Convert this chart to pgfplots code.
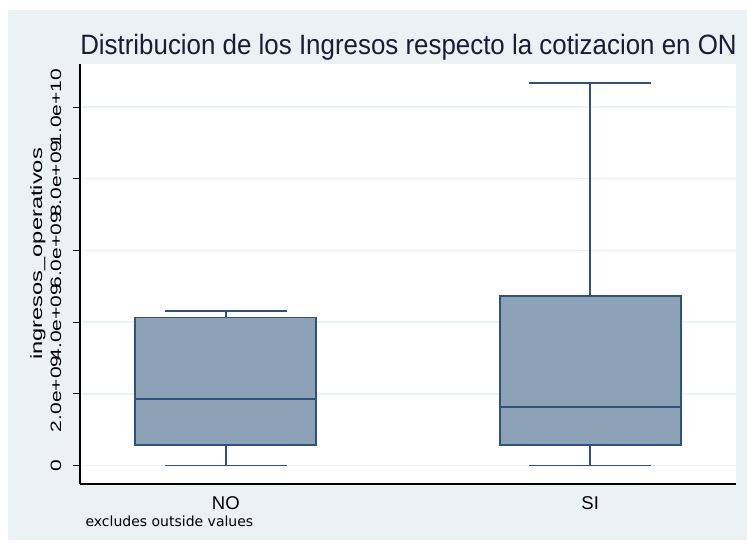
\documentclass[border=0pt]{standalone}
\usepackage{fontspec}
\setmainfont{Liberation Sans}
\newfontfamily\titlefont[FakeStretch=0.925]{Liberation Sans}
\newfontfamily\rotfont[FakeStretch=1.4]{Liberation Sans}
\newfontfamily\ylabfont[FakeStretch=1.45]{Liberation Sans}
\newfontfamily\notefont{DejaVu Sans}
\usepackage{pgfplots}
\usepgfplotslibrary{statistics}
\pgfplotsset{compat=1.18}
\definecolor{panel}{RGB}{234,242,243}
\definecolor{boxfill}{RGB}{140,162,183}
\definecolor{boxline}{RGB}{48,82,120}
\definecolor{gridc}{RGB}{234,242,243}
\definecolor{titlec}{RGB}{25,30,55}
\begin{document}
\begin{tikzpicture}[x=1pt,y=1pt]
\path[use as bounding box, fill=white] (0,0) rectangle (747,546);
\fill[panel] (8,6) rectangle (747,536);
\begin{axis}[
  at={(80pt,62pt)}, anchor=south west,
  width=656pt, height=420pt, scale only axis,
  xmin=0.6, xmax=2.4, ymin=-0.516, ymax=11.2,
  axis background/.style={fill=white},
  axis x line*=bottom, axis y line*=left,
  axis line style={-, black, line width=1.4pt},
  xtick={1,2}, xticklabels={NO,SI},
  x tick style={draw=none},
  xticklabel style={font=\fontsize{18.5}{20}\selectfont, anchor=base, yshift=-19pt},
  ytick={0,2,4,6,8,10},
  yticklabels={0,2.0e+09,4.0e+09,6.0e+09,8.0e+09,1.0e+10},
  y tick style={black, line width=1pt},
  tick align=outside,
  major tick length=7pt,
  yticklabel style={xshift=-17pt, rotate=90, anchor=center, font=\rotfont\fontsize{15}{16}\selectfont},
  ymajorgrids,
  grid style={gridc, line width=1.5pt},
  ylabel={ingresos\_operativos},
  ylabel style={at={(axis description cs:-0.064,0.548)}, anchor=center, font=\ylabfont\fontsize{16.3}{18}\selectfont},
  boxplot/draw direction=y,
  clip=false,
]
\addplot[boxplot prepared={draw position=1, lower whisker=0, lower quartile=0.57, median=1.855, upper quartile=4.13, upper whisker=4.32, box extend=0.497, whisker extend=0.335}, draw=boxline, fill=boxfill, line width=1.8pt] coordinates {};
\addplot[boxplot prepared={draw position=2, lower whisker=0, lower quartile=0.58, median=1.63, upper quartile=4.73, upper whisker=10.66, box extend=0.497, whisker extend=0.335}, draw=boxline, fill=boxfill, line width=1.8pt] coordinates {};
\end{axis}
\node[anchor=base, text=titlec, font=\titlefont\fontsize{28}{30}\selectfont] at (408.5,491) {Distribucion de los Ingresos respecto la cotizacion en ON};
\node[anchor=base west, font=\notefont\fontsize{14}{16}\selectfont] at (82,19) {excludes outside values};
\end{tikzpicture}
\end{document}
